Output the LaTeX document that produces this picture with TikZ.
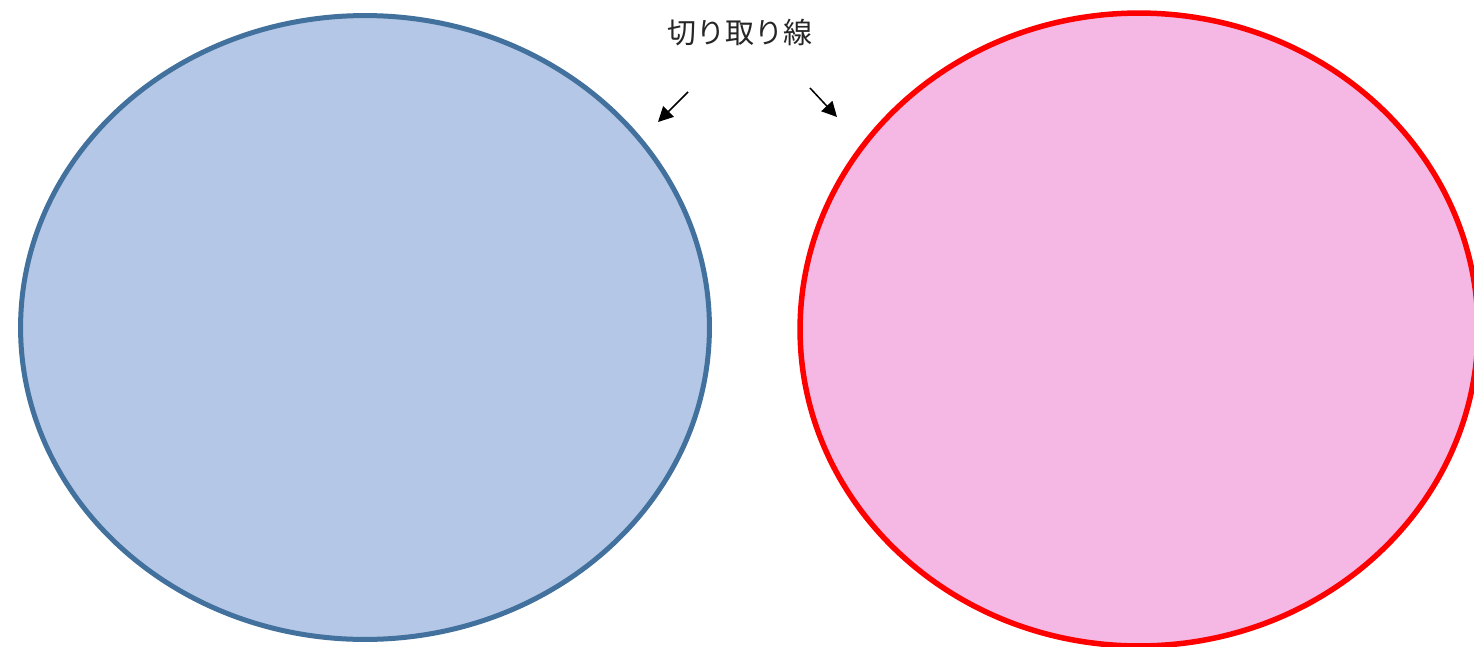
\documentclass[tikz,border=0pt]{standalone}
\usepackage{fontspec}
\usepackage{tikz}
\usetikzlibrary{shapes.geometric,arrows.meta}
\newfontfamily\jpfont{Noto Sans CJK JP}
\definecolor{blueFill}{HTML}{B4C7E7}
\definecolor{blueLine}{HTML}{41719C}
\definecolor{pinkFill}{HTML}{F5B8E4}
\definecolor{redLine}{HTML}{FF0000}

\begin{document}
\begin{tikzpicture}[
  x=0.02cm, y=-0.02cm,
  oval/.style={ellipse, line width=0.1cm, inner sep=0pt},
  lbl/.style={font=\jpfont\fontsize{16.5}{20}\selectfont, text=black!85},
  arr/.style={->, line width=0.03cm, >={Triangle[length=0.3cm,width=0.3cm]}}
]
\useasboundingbox (0,0) rectangle (1474,646);
\clip (0,0) rectangle (1474,646);
\fill[white] (0,0) rectangle (1474,646);

\node[oval, draw=blueLine, fill=blueFill, minimum width=13.78cm, minimum height=12.48cm] (left) at (365,327.5) {};
\node[oval, draw=redLine, fill=pinkFill, line width=0.11cm, minimum width=13.56cm, minimum height=12.66cm] (right) at (1139,329.5) {};

\node[lbl] (cut) at (740,33) {切り取り線};

\coordinate (la) at (688,92);
\coordinate (lb) at (658,122);
\coordinate (ra) at (810,88);
\coordinate (rb) at (837,117);
\draw[arr] (la) -- (lb);
\draw[arr] (ra) -- (rb);
\end{tikzpicture}
\end{document}
